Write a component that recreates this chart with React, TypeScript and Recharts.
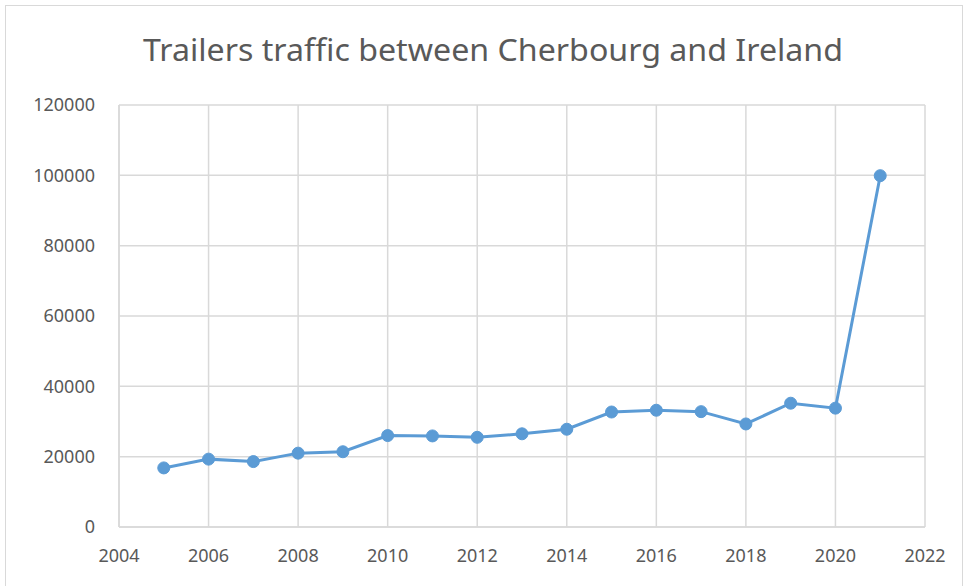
import React from "react";
import { LineChart, Line, XAxis, YAxis, CartesianGrid } from "recharts";

const years = [2005, 2006, 2007, 2008, 2009, 2010, 2011, 2012, 2013, 2014, 2015, 2016, 2017, 2018, 2019, 2020, 2021];
const trailers = [16800, 19300, 18600, 21000, 21400, 26000, 25900, 25500, 26500, 27800, 32700, 33200, 32800, 29300, 35200, 33800, 99900];
const xTicks = [2004, 2006, 2008, 2010, 2012, 2014, 2016, 2018, 2020, 2022];
const yTicks = [0, 20000, 40000, 60000, 80000, 100000, 120000];
const title = "Trailers traffic between Cherbourg and Ireland";

const data = years.map((y, i) => ({ year: y, value: trailers[i] }));

const font = "'Noto Sans', sans-serif";
const textColor = "#595959";

export default function App() {
  return (
    <div style={{ position: "absolute", left: 0, top: 0, width: 965, height: 586, background: "#fff", overflow: "hidden" }}>
      <div style={{ position: "absolute", left: 5, top: 5, width: 958, height: 600, border: "1px solid #d9d9d9", boxSizing: "border-box" }} />
      <svg style={{ position: "absolute", left: 0, top: 0 }} width={965} height={80}>
        <text
          x={143}
          y={61}
          textLength={700}
          lengthAdjust="spacingAndGlyphs"
          fontFamily={font}
          fontSize={31}
          fill={textColor}
        >
          {title}
        </text>
      </svg>
      <div style={{ position: "absolute", left: 0, top: 0 }}>
        <LineChart width={965} height={586} data={data} margin={{ top: 105, right: 40, bottom: 29, left: 0 }}>
          <CartesianGrid stroke="#d9d9d9" strokeWidth={1.5} />
          <XAxis
            dataKey="year"
            type="number"
            domain={[2004, 2022]}
            ticks={xTicks}
            interval={0}
            height={30}
            tickSize={0}
            tickMargin={22}
            axisLine={{ stroke: "#d9d9d9", strokeWidth: 1.5 }}
            tick={{ fill: textColor, fontSize: 18, fontFamily: font }}
          />
          <YAxis
            type="number"
            domain={[0, 120000]}
            ticks={yTicks}
            interval={0}
            width={119}
            tickSize={0}
            tickMargin={24}
            axisLine={{ stroke: "#d9d9d9", strokeWidth: 1.5 }}
            tick={{ fill: textColor, fontSize: 18, fontFamily: font }}
          />
          <Line
            dataKey="value"
            stroke="#5B9BD5"
            strokeWidth={3}
            dot={{ r: 6, fill: "#5B9BD5", stroke: "#5B9BD5", strokeWidth: 1 }}
            isAnimationActive={false}
          />
        </LineChart>
      </div>
    </div>
  );
}
